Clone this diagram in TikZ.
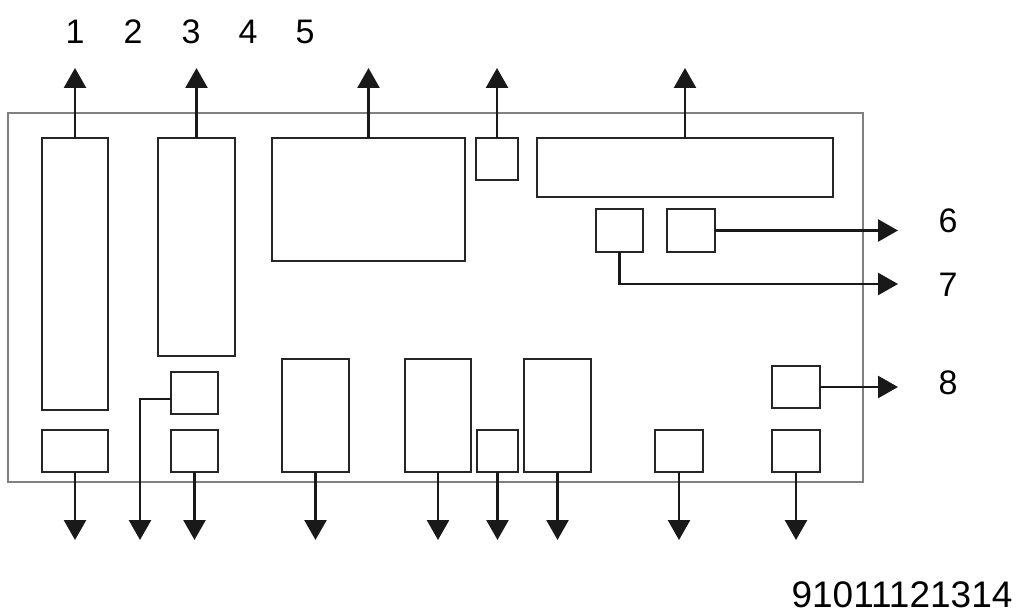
\documentclass[tikz,border=0pt]{standalone}
\usepackage{fontspec}
\setmainfont{Liberation Sans}
\usetikzlibrary{arrows.meta}
\begin{document}
\begin{tikzpicture}[x=1pt,y=-1pt,
  box/.style={draw=black!85, line width=2.8pt, inner sep=0pt, outer sep=0pt, minimum width=#1},
  frame/.style={draw=black!50, line width=2pt},
  arr/.style={draw=black!90, line width=2.6pt, -{Triangle[width=22pt,length=20pt]}},
  lbl/.style={font=\fontsize{34}{34}\selectfont, inner sep=0pt}]
\useasboundingbox (0,0) rectangle (1020,615);
\draw[frame] (8,113) rectangle (863,482);
% boxes
\node[box=66pt, minimum height=272pt] (a1) at (75,274) {};
\node[box=66pt, minimum height=42pt] (a2) at (75,451) {};
\node[box=77pt, minimum height=218pt] (b1) at (196.5,247) {};
\node[box=47pt, minimum height=42pt] (b2) at (194.5,393) {};
\node[box=47pt, minimum height=42pt] (b3) at (194.5,451) {};
\node[box=193pt, minimum height=123pt] (c) at (368.5,199.5) {};
\node[box=42pt, minimum height=42pt] (d) at (497,159) {};
\node[box=296pt, minimum height=59pt] (e) at (685,167.5) {};
\node[box=47pt, minimum height=43pt] (f1) at (619.5,230.5) {};
\node[box=48pt, minimum height=43pt] (f2) at (691,230.5) {};
\node[box=67pt, minimum height=113pt] (g1) at (315.5,415.5) {};
\node[box=66pt, minimum height=113pt] (g2) at (438,415.5) {};
\node[box=41pt, minimum height=42pt] (g3) at (497.5,451) {};
\node[box=67pt, minimum height=113pt] (g4) at (557.5,415.5) {};
\node[box=48pt, minimum height=42pt] (h) at (679,451) {};
\node[box=48pt, minimum height=42pt] (i1) at (796,387) {};
\node[box=48pt, minimum height=42pt] (i2) at (796,451) {};
% arrow tips
\coordinate (u1) at (75,68);
\coordinate (u2) at (196.5,68);
\coordinate (u3) at (368.5,68);
\coordinate (u4) at (497,68);
\coordinate (u5) at (685,68);
\coordinate (r6) at (898,230.5);
\coordinate (r7) at (898,284);
\coordinate (r8) at (898,387);
\coordinate (d1) at (75,540);
\coordinate (d2) at (140,540);
\coordinate (d3) at (194.5,540);
\coordinate (d4) at (315.5,540);
\coordinate (d5) at (438,540);
\coordinate (d6) at (497.5,540);
\coordinate (d7) at (557.5,540);
\coordinate (d8) at (679,540);
\coordinate (d9) at (796,540);
% arrows
\draw[arr] (a1.north) -- (u1);
\draw[arr] (b1.north) -- (u2);
\draw[arr] (c.north) -- (u3);
\draw[arr] (d.north) -- (u4);
\draw[arr] (e.north) -- (u5);
\draw[arr] (f2.east) -- (r6);
\draw[arr] (f1.south) |- (r7);
\draw[arr] (i1.east) -- (r8);
\draw[arr] (a2.south) -- (d1);
\draw[arr] ([yshift=-6pt]b2.west) -| (d2);
\draw[arr] (b3.south) -- (d3);
\draw[arr] (g1.south) -- (d4);
\draw[arr] (g2.south) -- (d5);
\draw[arr] (g3.south) -- (d6);
\draw[arr] (g4.south) -- (d7);
\draw[arr] (h.south) -- (d8);
\draw[arr] (i2.south) -- (d9);
% labels
\node[lbl] (l1) at (75,32) {1};
\node[lbl] (l2) at (133,32) {2};
\node[lbl] (l3) at (191,32) {3};
\node[lbl] (l4) at (248,32) {4};
\node[lbl] (l5) at (305,32) {5};
\node[lbl] (l6) at (948,221) {6};
\node[lbl] (l7) at (948,285) {7};
\node[lbl] (l8) at (948,383) {8};
\node[lbl, font=\fontsize{37}{37}\selectfont] (l9) at (902,595) {91011121314};
\end{tikzpicture}
\end{document}
